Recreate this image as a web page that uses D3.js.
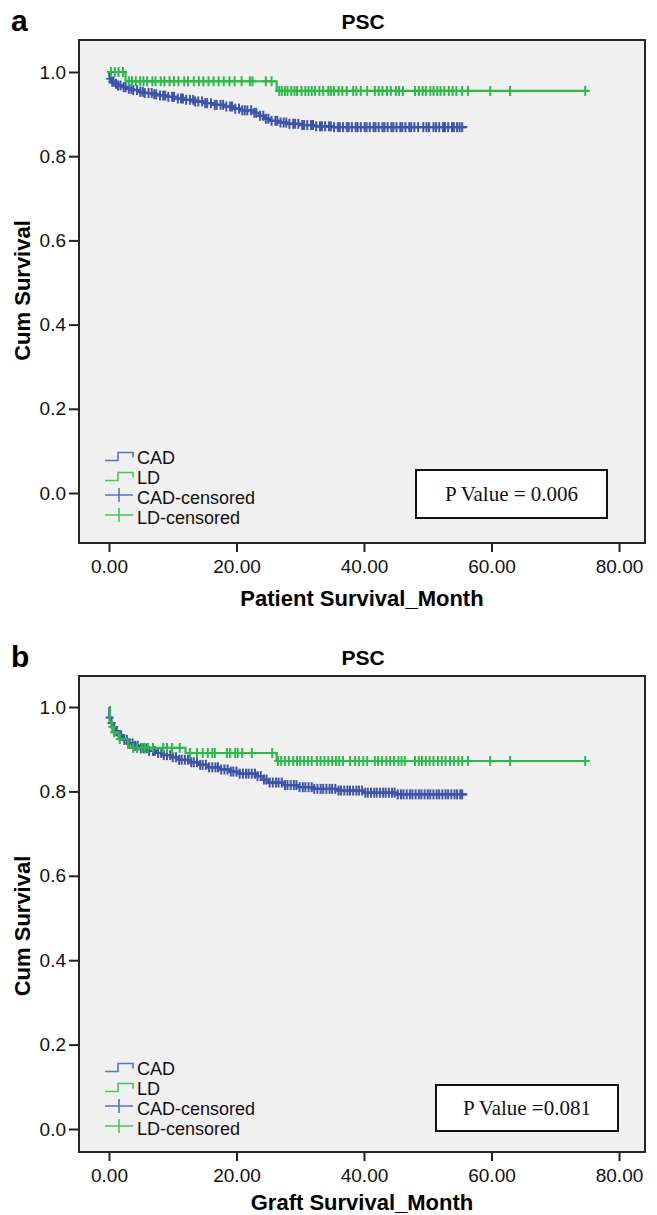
<!DOCTYPE html>
<html>
<head>
<meta charset="utf-8">
<script src="https://cdnjs.cloudflare.com/ajax/libs/d3/7.8.5/d3.min.js"></script>
<style>
  html, body { margin: 0; padding: 0; background: #ffffff; }
  svg { display: block; }
</style>
</head>
<body>
<svg id="chart" width="657" height="1215"></svg>
<script>
// ---- Axis ticks ----
const xTicks = [0, 20, 40, 60, 80];
const yTicks = [0, 0.2, 0.4, 0.6, 0.8, 1.0];

// ---- Panel a: patient survival (Kaplan–Meier steps as [month, survival]) ----
const cadStepsA = [[0, 1.0], [0.05, 0.99], [0.2, 0.984], [0.5, 0.977], [0.9, 0.972], [1.4, 0.968], [2.0, 0.964],
  [2.8, 0.96], [3.6, 0.957], [4.6, 0.953], [5.6, 0.95], [6.8, 0.947], [8.0, 0.944], [9.3, 0.941],
  [10.6, 0.937], [12.0, 0.934], [13.5, 0.93], [15.0, 0.926], [16.5, 0.922], [18.0, 0.918], [19.5, 0.913],
  [20.8, 0.909], [22.8, 0.903], [23.6, 0.896], [24.3, 0.889], [25.2, 0.884], [26.5, 0.88], [28.0, 0.877],
  [30.0, 0.874], [32.5, 0.871], [35.0, 0.869]];
const cadLastA = 56.2;
const cadCensorA = [0.2, 0.5, 0.7, 1.1, 1.4, 1.8, 2.3, 2.6, 3.1, 3.5, 3.8, 4.4, 4.9, 5.3, 5.6, 6.2, 6.7, 7.1, 7.4, 8.0,
  8.5, 8.8, 9.3, 9.9, 10.2, 10.8, 11.3, 11.6, 12.1, 12.7, 13.2, 13.5, 14.0, 14.6, 15.1, 15.4, 16.0, 16.6, 16.9,
  17.5, 17.9, 18.4, 19.0, 19.3, 19.8, 20.4, 20.9, 21.3, 21.7, 22.3, 22.8, 23.1, 23.7, 24.2, 24.6, 25.0, 25.5,
  26.1, 26.4, 26.9, 27.4, 27.8, 28.3, 28.9, 29.2, 29.7, 30.3, 30.6, 31.1, 31.7, 32.0, 32.5, 33.1, 33.4, 33.9,
  34.5, 34.8, 35.3, 35.9, 36.2, 36.7, 37.3, 37.6, 38.1, 38.7, 39.0, 39.5, 40.1, 40.4, 40.9, 41.5, 41.8, 42.3,
  42.9, 43.2, 43.7, 44.3, 44.6, 45.1, 45.7, 46.0, 46.5, 47.1, 47.4, 47.9, 48.5, 49.3, 49.8, 50.2, 50.9, 51.3,
  51.8, 52.4, 52.7, 53.2, 53.8, 54.1, 54.6, 55.0, 55.4];
const ldStepsA = [[0, 1.0], [2.6, 0.978], [26.3, 0.955]];
const ldLastA = 75.4;
const ldCensorA = [0.3, 0.9, 1.5, 2.2, 3.1, 3.6, 4.2, 4.9, 5.4, 6.0, 6.8, 7.3, 8.1, 8.7, 9.5, 10.2, 10.9, 11.8, 12.4,
  13.3, 14.1, 14.8, 15.6, 16.4, 17.2, 18.0, 18.9, 19.7, 20.8, 22.1, 22.5, 24.6, 25.5, 26.7, 27.1, 27.6, 28.0,
  28.6, 29.1, 29.5, 30.2, 30.8, 31.3, 31.8, 32.3, 33.0, 33.6, 34.4, 34.8, 35.3, 36.0, 36.6, 37.3, 38.3, 38.8,
  39.5, 40.5, 41.7, 42.3, 42.9, 43.6, 44.2, 45.0, 45.5, 46.1, 48.0, 48.6, 49.2, 49.7, 50.4, 50.9, 51.5, 52.0,
  52.6, 53.3, 53.9, 54.5, 55.4, 56.3, 59.8, 62.9, 74.7];

// ---- Panel b: graft survival ----
const cadStepsB = [[0, 1.0], [0.05, 0.975], [0.3, 0.962], [0.6, 0.952], [1.0, 0.943], [1.5, 0.933], [2.2, 0.922],
  [3.0, 0.914], [3.8, 0.908], [5.0, 0.902], [6.2, 0.896], [7.4, 0.891], [8.6, 0.886], [9.8, 0.881], [11.0, 0.875],
  [12.5, 0.869], [14.0, 0.863], [15.6, 0.857], [17.2, 0.852], [19.0, 0.847], [20.5, 0.842], [23.2, 0.836],
  [24.2, 0.828], [25.0, 0.821], [27.5, 0.815], [29.5, 0.81], [32.0, 0.806], [36.0, 0.802], [40.0, 0.797],
  [45.0, 0.793]];
const cadLastB = 56.2;
const cadCensorB = [0.1, 0.4, 0.8, 1.2, 1.6, 1.9, 2.4, 2.8, 3.2, 3.7, 4.1, 4.5, 5.0, 5.5, 5.9, 6.3, 6.9, 7.2, 7.7, 8.2,
  8.6, 9.1, 9.6, 10.0, 10.5, 11.0, 11.4, 11.9, 12.4, 12.9, 13.3, 13.8, 14.3, 14.7, 15.2, 15.7, 16.2, 16.7, 17.1,
  17.6, 18.1, 18.6, 19.1, 19.5, 20.0, 20.5, 21.0, 21.5, 21.9, 22.4, 22.9, 23.3, 23.8, 24.3, 24.7, 25.2, 25.7,
  26.2, 26.6, 27.1, 27.6, 28.0, 28.5, 29.0, 29.4, 29.9, 30.4, 30.8, 31.3, 31.8, 32.2, 32.7, 33.2, 33.6, 34.1,
  34.6, 35.0, 35.5, 36.0, 36.4, 36.9, 37.4, 37.8, 38.3, 38.8, 39.2, 39.7, 40.2, 40.6, 41.1, 41.6, 42.0, 42.5,
  43.0, 43.4, 43.9, 44.4, 44.8, 45.3, 45.8, 46.2, 46.7, 47.2, 47.6, 48.1, 48.6, 49.0, 49.5, 50.0, 50.4, 50.9,
  51.4, 51.8, 52.3, 52.8, 53.2, 53.7, 54.2, 54.6, 55.1, 55.4];
const ldStepsB = [[0, 1.0], [0.15, 0.965], [0.4, 0.953], [0.7, 0.94], [1.5, 0.924], [3.0, 0.903], [12.0, 0.891],
  [26.3, 0.872]];
const ldLastB = 75.4;
const ldCensorB = [0.5, 0.8, 1.7, 3.8, 4.4, 5.2, 5.6, 6.1, 6.9, 8.5, 9.1, 9.9, 11.1, 12.7, 13.8, 14.7, 15.5, 16.2, 16.6,
  18.5, 19.0, 19.8, 20.2, 20.9, 22.4, 25.6, 26.5, 27.0, 27.6, 28.2, 28.9, 29.5, 30.0, 30.6, 31.2, 31.8, 32.6,
  33.2, 33.8, 34.4, 35.0, 35.6, 36.1, 36.7, 37.8, 38.6, 39.2, 39.9, 40.5, 41.7, 42.2, 42.8, 43.5, 44.1, 44.7,
  45.4, 45.9, 46.4, 48.0, 48.6, 49.1, 49.7, 50.3, 50.9, 51.6, 52.2, 52.8, 53.5, 54.1, 54.8, 55.4, 56.3, 59.8,
  62.9, 74.7];

// ---- Labels ----
const legendLabels = ["CAD", "LD", "CAD-censored", "LD-censored"];
const panelLetters = ["a", "b"];
const panelTitle = "PSC";
const xTitles = ["Patient Survival_Month", "Graft Survival_Month"];
const yTitle = "Cum Survival";
const pLabels = ["P Value = 0.006", "P Value =0.081"];

// ---- Styling ----
const CAD_COLOR = "#3d55a9";
const LD_COLOR = "#2fb84a";
const CAD_LEGEND = "#5a72c6";
const LD_LEGEND = "#49c55f";
const SANS = "'Liberation Sans', Arial, Helvetica, sans-serif";
const SERIF = "'Liberation Serif', 'Times New Roman', serif";

const svg = d3.select("#chart");

const panels = [
  { letter: panelLetters[0], xTitle: xTitles[0], p: pLabels[0],
    cad: cadStepsA, cadLast: cadLastA, cadCens: cadCensorA,
    ld: ldStepsA, ldLast: ldLastA, ldCens: ldCensorA,
    frameTop: 40, frameBottom: 543, y1: 72, y0: 493, titleGap: 63,
    legendTop: 457, pBox: { x: 416, y: 470, w: 191, h: 48 } },
  { letter: panelLetters[1], xTitle: xTitles[1], p: pLabels[1],
    cad: cadStepsB, cadLast: cadLastB, cadCens: cadCensorB,
    ld: ldStepsB, ldLast: ldLastB, ldCens: ldCensorB,
    frameTop: 676, frameBottom: 1152, y1: 707, y0: 1129, titleGap: 58,
    legendTop: 1068, pBox: { x: 436, y: 1085, w: 182, h: 46 } }
];

const frameLeft = 79, frameRight = 645;
const x = d3.scaleLinear().domain([0, 80]).range([109, 619]);

// survival value at time t from a step table
function survAt(steps, t) {
  let s = steps[0][1];
  for (const [ti, si] of steps) { if (ti <= t) s = si; else break; }
  return s;
}

panels.forEach(pn => {
  const g = svg.append("g");
  const y = d3.scaleLinear().domain([0, 1]).range([pn.y0, pn.y1]);

  // panel letter and title
  g.append("text").attr("x", 11).attr("y", pn.frameTop - 9)
    .attr("font-family", SANS).attr("font-weight", "bold").attr("font-size", 30)
    .text(pn.letter);
  g.append("text").attr("x", 363).attr("y", pn.frameTop - 11)
    .attr("text-anchor", "middle").attr("font-family", SANS).attr("font-weight", "bold")
    .attr("font-size", 21).text(panelTitle);

  // plot area
  g.append("rect").attr("x", frameLeft).attr("y", pn.frameTop)
    .attr("width", frameRight - frameLeft).attr("height", pn.frameBottom - pn.frameTop)
    .attr("fill", "#f0f0f0").attr("stroke", "none");

  // axes
  const xAxis = d3.axisBottom(x).tickValues(xTicks).tickFormat(d3.format(".2f"))
    .tickSize(9).tickPadding(8);
  const xg = g.append("g").attr("transform", `translate(0,${pn.frameBottom})`).call(xAxis);
  xg.select(".domain").remove();
  xg.selectAll(".tick line").attr("stroke", "#222").attr("stroke-width", 2);
  xg.selectAll(".tick text").attr("font-family", SANS).attr("font-size", 19).attr("fill", "#111");

  const yAxis = d3.axisLeft(y).tickValues(yTicks).tickFormat(d3.format(".1f"))
    .tickSize(10).tickPadding(3);
  const yg = g.append("g").attr("transform", `translate(${frameLeft},0)`).call(yAxis);
  yg.select(".domain").remove();
  yg.selectAll(".tick line").attr("stroke", "#222").attr("stroke-width", 2);
  yg.selectAll(".tick text").attr("font-family", SANS).attr("font-size", 19).attr("fill", "#111");

  // axis titles
  g.append("text").attr("x", 362).attr("y", pn.frameBottom + pn.titleGap)
    .attr("text-anchor", "middle").attr("font-family", SANS).attr("font-weight", "bold")
    .attr("font-size", 22).text(pn.xTitle);
  const yMid = (pn.y0 + pn.y1) / 2 + 8;
  g.append("text").attr("transform", `translate(30,${yMid}) rotate(-90)`)
    .attr("text-anchor", "middle").attr("font-family", SANS).attr("font-weight", "bold")
    .attr("font-size", 22).text(yTitle);

  // survival curves with censor ticks
  const line = d3.line().x(d => x(d[0])).y(d => y(d[1])).curve(d3.curveStepAfter);
  const series = [
    { steps: pn.cad, last: pn.cadLast, cens: pn.cadCens, color: CAD_COLOR },
    { steps: pn.ld, last: pn.ldLast, cens: pn.ldCens, color: LD_COLOR }
  ];
  series.forEach(s => {
    const pts = s.steps.concat([[s.last, s.steps[s.steps.length - 1][1]]]);
    g.append("path").attr("d", line(pts)).attr("fill", "none")
      .attr("stroke", s.color).attr("stroke-width", 2.2);
    const cg = g.append("g").attr("stroke", s.color).attr("stroke-width", 2);
    s.cens.forEach(t => {
      const cx = x(t), cy = y(survAt(s.steps, t));
      cg.append("line").attr("x1", cx).attr("x2", cx).attr("y1", cy - 5).attr("y2", cy + 5);
      cg.append("line").attr("x1", cx - 4).attr("x2", cx + 4).attr("y1", cy).attr("y2", cy);
    });
  });

  // frame border
  g.append("rect").attr("x", frameLeft).attr("y", pn.frameTop)
    .attr("width", frameRight - frameLeft).attr("height", pn.frameBottom - pn.frameTop)
    .attr("fill", "none").attr("stroke", "#262626").attr("stroke-width", 2);

  // legend
  const lg = g.append("g").attr("transform", `translate(105,${pn.legendTop})`);
  const legendColors = [CAD_LEGEND, LD_LEGEND, CAD_LEGEND, LD_LEGEND];
  legendLabels.forEach((lab, i) => {
    const cy = i * 20;
    const col = legendColors[i];
    if (i < 2) {
      lg.append("path")
        .attr("d", `M0,${cy + 3.5} H13 V${cy - 4.5} H28 V${cy + 0.5}`)
        .attr("fill", "none").attr("stroke", col).attr("stroke-width", 1.6);
    } else {
      lg.append("path")
        .attr("d", `M0,${cy - 2} H28 M14,${cy - 9} V${cy + 5}`)
        .attr("fill", "none").attr("stroke", col).attr("stroke-width", 1.6);
    }
    lg.append("text").attr("x", 32).attr("y", cy + 6.5)
      .attr("font-family", SANS).attr("font-size", 18).attr("fill", "#111").text(lab);
  });

  // p-value box
  const b = pn.pBox;
  g.append("rect").attr("x", b.x).attr("y", b.y).attr("width", b.w).attr("height", b.h)
    .attr("fill", "#ffffff").attr("stroke", "#111").attr("stroke-width", 2);
  g.append("text").attr("x", b.x + b.w / 2).attr("y", b.y + b.h / 2 + 7)
    .attr("text-anchor", "middle").attr("font-family", SERIF).attr("font-size", 21)
    .attr("fill", "#111").text(pn.p);
});
</script>
</body>
</html>
